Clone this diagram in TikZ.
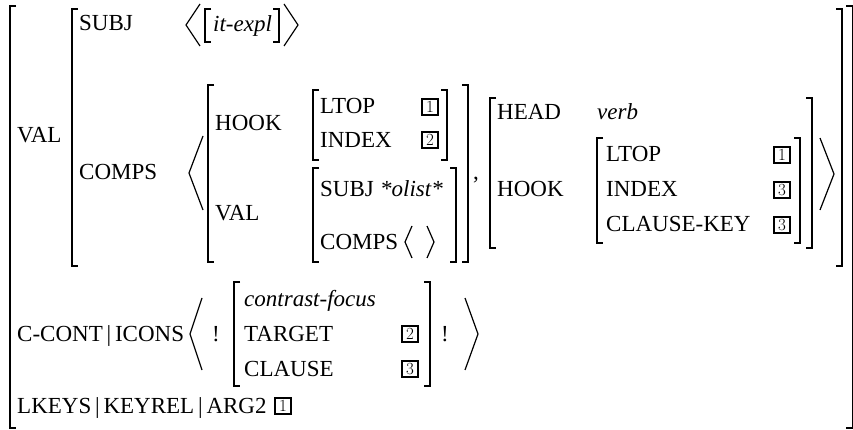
\documentclass[tikz,border=0pt]{standalone}
\usepackage{fontspec}
\setmainfont{Liberation Serif}
% bracket pieces of the feature structure
\newcommand{\avmL}[3]{\draw[brk] (#1+6,#2) -- (#1,#2) -- (#1,#3) -- (#1+6,#3);}
\newcommand{\avmR}[3]{\draw[brk] (#1-6,#2) -- (#1,#2) -- (#1,#3) -- (#1-6,#3);}
\newcommand{\avmA}[4]{\draw[ang] (#1,#3) -- (#2,{(#3+#4)/2}) -- (#1,#4);}

\begin{document}
\begin{tikzpicture}[x=1pt,y=-1pt,
  lbl/.style={anchor=base west,inner sep=0pt,font=\fontsize{23}{27}\selectfont},
  typ/.style={lbl,font=\fontsize{23}{27}\selectfont\itshape},
  tag/.style={draw,line width=2pt,inner sep=0pt,minimum width=16.5pt,minimum height=15.5pt,font=\fontfamily{lmr}\fontsize{17}{17}\selectfont},
  brk/.style={line width=1.4pt},
  ang/.style={line width=1.2pt}]
  \useasboundingbox (0,0) rectangle (853,430);
  % outer matrix
  \avmL{10}{6}{428} \avmR{852.3}{6}{428}
  \node[lbl] (val) at (17,143) {VAL};
  \avmL{72}{9}{266} \avmR{842}{9}{266}
  \node[lbl] (subj) at (79,31) {SUBJ};
  \avmA{200}{186}{4}{46}
  \avmL{205}{9}{42}
  \node[typ] (itexpl) at (213,32) {it-expl};
  \avmR{279}{9}{42}
  \avmA{284}{298}{4}{46}
  \node[lbl] (comps) at (79,180) {COMPS};
  \avmA{203}{189}{136}{210}
  % first element of the list
  \avmL{208}{85}{262} \avmR{468}{85}{262}
  \node[lbl] (hook) at (215,131) {HOOK};
  \avmL{313}{90}{160} \avmR{447}{90}{160}
  \node[lbl] (ltop) at (320,114) {LTOP};
  \node[lbl] (index) at (320,148) {INDEX};
  \node[tag] (ta) at (430,107) {1};
  \node[tag] (tb) at (430,140) {2};
  \node[lbl] (val2) at (215,221) {VAL};
  \avmL{313}{168}{262} \avmR{456}{168}{262}
  \node[lbl] (subj2) at (320,197) {SUBJ};
  \node[typ] (olist) at (380,197) {*olist*};
  \node[lbl] (comps2) at (320,250) {COMPS};
  \avmA{412}{405}{226}{258} \avmA{427}{434}{226}{258}
  \node[lbl] (comma) at (473,180) {,};
  % second element of the list
  \avmL{490}{98}{248} \avmR{812}{98}{248}
  \node[lbl] (head) at (497,120) {HEAD};
  \node[typ] (verb) at (597,120) {verb};
  \node[lbl] (hook2) at (497,197) {HOOK};
  \avmL{597}{138}{243} \avmR{800}{138}{243}
  \node[lbl] (ltop2) at (606,162) {LTOP};
  \node[lbl] (index2) at (606,197) {INDEX};
  \node[lbl] (ckey) at (606,232) {CLAUSE-KEY};
  \node[tag] (tc) at (782,155) {1};
  \node[tag] (td) at (782,190) {3};
  \node[tag] (te) at (782,225) {3};
  \avmA{820}{834}{138}{210}
  % icons
  \node[lbl] (icons) at (17,341) {C-CONT\,|\,ICONS};
  \avmA{202}{190}{298}{370}
  \node[lbl] (bang1) at (212,341) {!};
  \avmL{234}{282}{386} \avmR{430}{282}{386}
  \node[typ] (cfocus) at (244,306) {contrast-focus};
  \node[lbl] (target) at (244,341) {TARGET};
  \node[lbl] (clause) at (244,376) {CLAUSE};
  \node[tag] (tf) at (410,334) {2};
  \node[tag] (tg) at (410,369) {3};
  \node[lbl] (bang2) at (441,341) {!};
  \avmA{465}{478}{298}{370}
  \node[lbl] (lkeys) at (17,413) {LKEYS\,|\,KEYREL\,|\,ARG2};
  \node[tag] (th) at (283,406) {1};
\end{tikzpicture}
\end{document}
